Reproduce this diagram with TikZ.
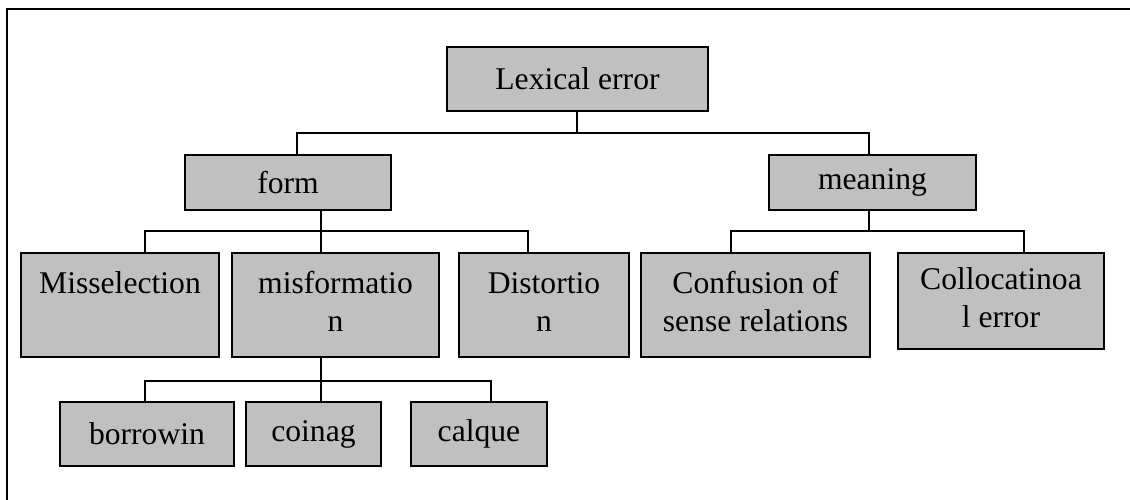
\documentclass[tikz,border=0pt]{standalone}
\usepackage{fontspec}
\setmainfont{Liberation Serif}
\usepackage{tikz}
\usetikzlibrary{calc}
\definecolor{boxGray}{HTML}{C0C0C0}

\begin{document}
\begin{tikzpicture}[
    x=0.02cm, y=-0.02cm,
    box/.style={rectangle, draw, fill=boxGray, line width=0.75pt, inner sep=0pt, align=center, font=\fontsize{18}{21.6}\selectfont},
    tallbox/.style={box, minimum height=2.08cm},
    lowbox/.style={box, minimum height=1.28cm},
    link/.style={line width=0.7pt}
]
\useasboundingbox (0,0) rectangle (1130,500);

% Outer frame (cut by the page edge)
\begin{scope}
\clip (0,0) rectangle (1130,500);
\draw[line width=0.8pt] (7,9) rectangle (1145,515);
\end{scope}

% Top level
\node[lowbox, minimum width=5.22cm] (lex) at (577.5,79) {Lexical error};

% Second level
\node[box, minimum width=4.12cm, minimum height=1.10cm] (form) at (288,182.5) {form};
\node[box, minimum width=4.14cm, minimum height=1.10cm] (mean) at (872.5,182.5) {meaning};

% Third level
\node[tallbox, minimum width=3.96cm] (missel) at (120,305) {\strut Misselection\\\strut};
\node[tallbox, minimum width=4.14cm] (misform) at (335.5,305) {\strut misformatio\\\strut n};
\node[tallbox, minimum width=3.40cm] (dist) at (544,305) {\strut Distortio\\\strut n};
\node[tallbox, minimum width=4.58cm] (conf) at (755.5,305) {\strut Confusion of\\\strut sense relations};
\node[box, minimum width=4.12cm, minimum height=1.92cm] (coll) at (1001,301) {\strut Collocatinoa\\\strut l error};

% Fourth level
\node[lowbox, minimum width=3.48cm] (borr) at (147,434) {borrowin};
\node[lowbox, minimum width=2.70cm] (coin) at (313.5,434) {coinag};
\node[lowbox, minimum width=2.72cm] (calq) at (479,434) {calque};

% Bus points
\coordinate (lexbus) at (577,133);
\coordinate (formbus) at (321,231);
\coordinate (meanbus) at (869,231);
\coordinate (misbus) at (321,381);

% Connectors
\draw[link] (lexbus |- lex.south) -- (lexbus);
\draw[link] ($(form.north)+(9,0)$) |- (lexbus) -| (meanbus |- mean.north);

\draw[link] (formbus |- form.south) -- (formbus);
\draw[link] ($(missel.north)+(25,0)$) |- (formbus) -| ($(dist.north)+(-16,0)$);
\draw[link] (formbus) -- (formbus |- misform.north);

\draw[link] (meanbus |- mean.south) -- (meanbus);
\draw[link] ($(conf.north)+(-24.5,0)$) |- (meanbus) -| ($(coll.north)+(23,0)$);

\draw[link] (misbus |- misform.south) -- (misbus);
\draw[link] ($(borr.north)+(-2,0)$) |- (misbus) -| ($(calq.north)+(12,0)$);
\draw[link] (misbus) -- (misbus |- coin.north);

\end{tikzpicture}
\end{document}
